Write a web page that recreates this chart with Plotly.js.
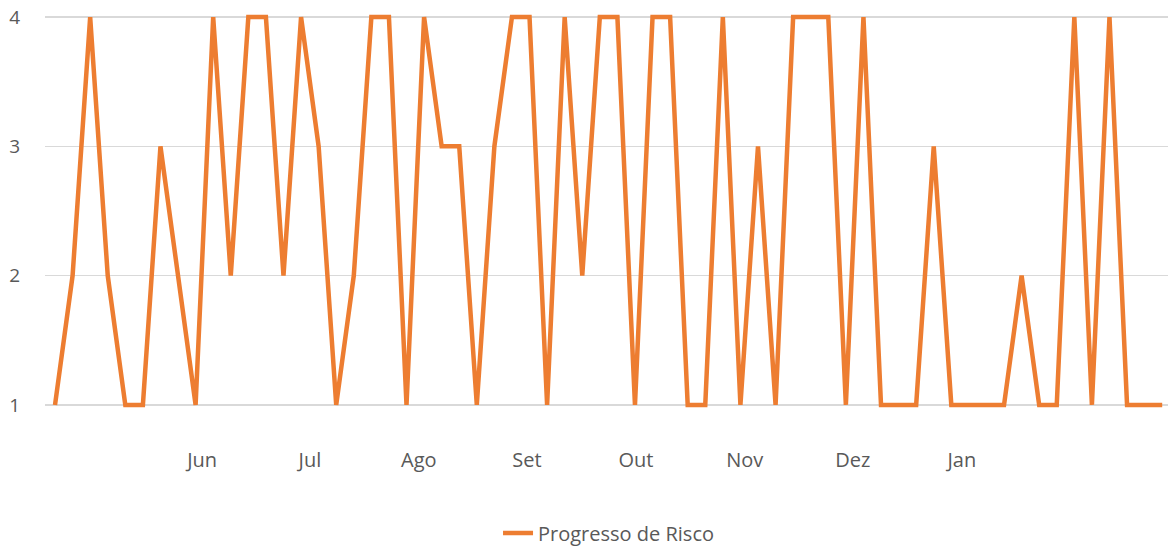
<!DOCTYPE html>
<html>
<head>
<meta charset="utf-8">
<script src="https://cdn.plot.ly/plotly-3.0.1.min.js"></script>
<style>html,body{margin:0;padding:0;background:#fff;}#chart{width:1168px;height:546px;}</style>
</head>
<body>
<div id="chart"></div>
<script>
const riskValues = [1,2,4,2,1,1,3,2,1,4,2,4,4,2,4,3,1,2,4,4,1,4,3,3,1,3,4,4,1,4,2,4,4,1,4,4,1,1,4,1,3,1,4,4,4,1,4,1,1,1,3,1,1,1,1,2,1,1,4,1,4,1,1,1];
// Month labels and where they sit along the observation index
const monthLabels = ["Jun","Jul","Ago","Set","Out","Nov","Dez","Jan"];
const monthTickPos = [8.37,14.5,20.7,26.85,33.05,39.25,45.4,51.6];
const yTicks = [1,2,3,4];
const seriesName = "Progresso de Risco";

const xIdx = riskValues.map((v,i)=>i);

const trace = {
  x: xIdx, y: riskValues, type: 'scatter', mode: 'lines', name: seriesName,
  line: {color: '#ED7D31', width: 4.5, shape: 'linear'},
  hoverinfo: 'y'
};

const font = {family: '"Open Sans", "Noto Sans", sans-serif', size: 20, color: '#595959'};
const yfont = {family: '"Open Sans", "Noto Sans", sans-serif', size: 19, color: '#595959'};

const layout = {
  width: 1168, height: 546,
  margin: {l: 45, r: 0, t: 12, b: 136, autoexpand: false},
  paper_bgcolor: '#ffffff', plot_bgcolor: '#ffffff',
  font: font,
  showlegend: true,
  legend: {orientation: 'h', xref: 'container', yref: 'container', x: 0.521, xanchor: 'center', y: 0.024, yanchor: 'middle', font: font},
  xaxis: {
    range: [-0.57, 63.33], showgrid: false, zeroline: false, showline: false, automargin: false,
    tickmode: 'array', tickvals: monthTickPos, ticktext: monthLabels,
    ticks: 'outside', ticklen: 32, tickcolor: 'rgba(0,0,0,0)', tickfont: font
  },
  yaxis: {
    range: [0.961, 4.039], tickmode: 'array', tickvals: yTicks, automargin: false,
    showgrid: true, gridcolor: '#d9d9d9', gridwidth: 1.3, zeroline: false, showline: false,
    ticks: 'outside', ticklen: 20, tickcolor: 'rgba(0,0,0,0)', tickfont: yfont
  }
};

Plotly.newPlot('chart', [trace], layout, {displayModeBar: false, staticPlot: true});
</script>
</body>
</html>
